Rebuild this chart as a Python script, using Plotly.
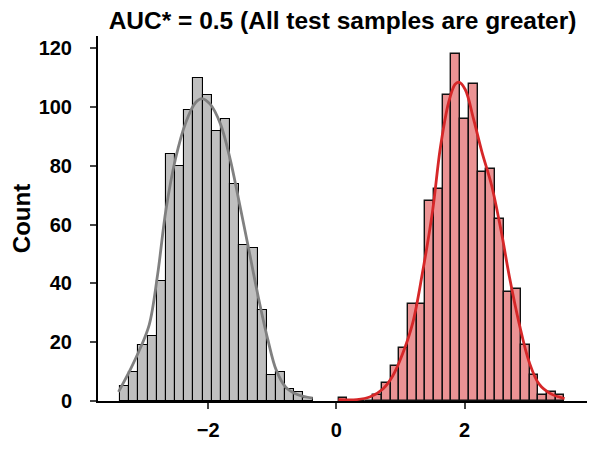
import plotly.graph_objects as go

# histogram counts (1000 samples each)
ref_start = -3.377
ref_width = 0.1431
ref_counts = [5, 10, 19, 22, 41, 84, 80, 99, 110, 104, 92, 96, 74, 53, 52, 31, 9, 10, 4, 3, 1]

test_start = 0.034
test_width = 0.1355
test_counts = [1, 0, 0, 0, 2, 6, 12, 18, 33, 33, 68, 72, 104, 118, 96, 108, 78, 79,
               62, 37, 38, 19, 9, 2, 3, 2]

# kde curves (scaled to counts)
ref_kde_x = [-3.40, -3.22, -3.07, -2.92, -2.79, -2.66, -2.51, -2.35, -2.20, -2.10, -1.97,
             -1.81, -1.66, -1.53, -1.38, -1.22, -1.07, -0.94, -0.79, -0.61, -0.37]
ref_kde_y = [3.1, 10.5, 17.5, 26.0, 43.0, 65.0, 82.5, 94.8, 101.5, 102.9, 101.0,
             94.3, 82.5, 69.1, 53.0, 35.5, 20.9, 10.6, 4.7, 2.2, 1.0]

test_kde_x = [0.03, 0.32, 0.52, 0.73, 0.88, 1.03, 1.19, 1.34, 1.50, 1.62, 1.75, 1.85,
              1.91, 2.01, 2.14, 2.27, 2.42, 2.57, 2.70, 2.85, 3.01, 3.16, 3.34, 3.56]
test_kde_y = [0.5, 0.5, 1.35, 4.2, 8.6, 15.9, 26.5, 43.3, 64.6, 85.9, 101.5, 107.7,
              108.5, 106.0, 95.9, 84.8, 73.5, 57.9, 42.2, 26.5, 13.1, 5.8, 2.5, 0.8]

title_text = "AUC* = 0.5 (All test samples are greater)"
y_ticks = [0, 20, 40, 60, 80, 100, 120]
x_ticks = [-2, 0, 2]

FONT = "Liberation Sans, Arial, sans-serif"
# page body has an 8px margin, so the figure is 8px smaller than the window
W, H = 587, 441


def centers(start, width, n):
    return [start + width * (i + 0.5) for i in range(n)]


fig = go.Figure()

fig.add_trace(go.Bar(
    x=centers(ref_start, ref_width, len(ref_counts)), y=ref_counts, width=ref_width,
    marker=dict(color="#bfbfbf", line=dict(color="black", width=1.1)),
    showlegend=False))
fig.add_trace(go.Bar(
    x=centers(test_start, test_width, len(test_counts)), y=test_counts, width=test_width,
    marker=dict(color="#eb9394", line=dict(color="#111111", width=1.4)),
    showlegend=False))

fig.add_trace(go.Scatter(x=ref_kde_x, y=ref_kde_y, mode="lines",
                         line=dict(color="#808080", width=2.8, shape="spline"),
                         showlegend=False))
fig.add_trace(go.Scatter(x=test_kde_x, y=test_kde_y, mode="lines",
                         line=dict(color="#d62728", width=2.8, shape="spline"),
                         showlegend=False))

fig.update_layout(
    width=W, height=H,
    margin=dict(l=83, r=8, t=28, b=43),
    paper_bgcolor="white", plot_bgcolor="white",
    barmode="overlay", bargap=0,
    font=dict(family=FONT, color="black"),
    title=dict(text=title_text, x=0.5, xref="paper", y=1 - 12 / H, yref="container",
               yanchor="middle", xanchor="center",
               font=dict(size=24.5, family=FONT, weight="bold", color="black")),
)

fig.update_xaxes(range=[-3.72, 3.91], tickvals=x_ticks, ticks="outside", ticklen=6,
                 tickwidth=2, showline=True, linewidth=2, linecolor="black",
                 showgrid=False, zeroline=False, ticklabelstandoff=4,
                 tickfont=dict(size=20, family=FONT, weight="bold"))
fig.update_yaxes(range=[0, 124.2], tickvals=y_ticks, ticks="outside", ticklen=6,
                 tickwidth=2, showline=True, linewidth=2, linecolor="black",
                 showgrid=False, zeroline=False, ticklabelstandoff=14,
                 tickfont=dict(size=20, family=FONT, weight="bold"),
                 title=dict(text="Count", standoff=6,
                            font=dict(size=24, family=FONT, weight="bold")))

fig.write_html("out.html")
